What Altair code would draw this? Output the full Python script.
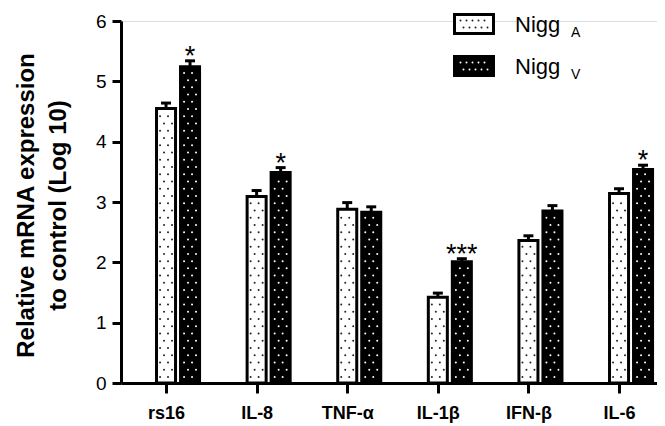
import json
import altair as alt
import pandas as pd

# ---- data ----
genes = ["rs16", "IL-8", "TNF-α", "IL-1β", "IFN-β", "IL-6"]
nigg_a = [4.55, 3.09, 2.88, 1.42, 2.36, 3.14]
nigg_a_err = [0.09, 0.10, 0.11, 0.07, 0.08, 0.08]
nigg_v = [5.24, 3.49, 2.83, 2.01, 2.85, 3.54]
nigg_v_err = [0.10, 0.08, 0.09, 0.05, 0.09, 0.07]
stars_v = ["*", "*", "", "***", "", "*"]
series = ["NiggA", "NiggV"]
legend_main = ["Nigg", "Nigg"]
legend_sub = ["A", "V"]
y_ticks = [0, 1, 2, 3, 4, 5, 6]

FONT = "Liberation Sans"
OFFSET = 0.265   # centre offset of the second bar (category units)
HW = 0.105       # bar half width (category units)
CAP = 0.055      # error cap half width

rows = []
for i, g in enumerate(genes):
    for s, vals, errs, off in ((series[0], nigg_a, nigg_a_err, 0.0),
                               (series[1], nigg_v, nigg_v_err, OFFSET)):
        xc = i + off
        rows.append(dict(gene=g, series=s, xc=xc, x0=xc - HW, x1=xc + HW,
                         c0=xc - CAP, c1=xc + CAP, value=vals[i],
                         top=vals[i] + errs[i],
                         star=stars_v[i] if s == series[1] else ""))
df = pd.DataFrame(rows)

# decorative dot pattern inside each bar
dots = []
for r in rows:
    k = 0
    y = 0.1
    while y < r["value"] - 0.05:
        offs = (-0.066, 0.022) if k % 2 == 0 else (-0.022, 0.066)
        for o in offs:
            dots.append(dict(series=r["series"], x=r["xc"] + o, y=y))
        k += 1
        y += 0.12
ddf = pd.DataFrame(dots)

xscale = alt.Scale(domain=[-0.497, 5.419], nice=False, zero=False)
yscale = alt.Scale(domain=[0, 6], nice=False)
fill_scale = alt.Scale(domain=series, range=["white", "black"])
dot_scale = alt.Scale(domain=series, range=["#222222", "white"])

label_expr = "{}[datum.value]".format(json.dumps(genes, ensure_ascii=False))

base = alt.Chart(df)

bars = base.mark_rect(stroke="black", strokeWidth=3).encode(
    x=alt.X("x0:Q", scale=xscale,
            axis=alt.Axis(values=list(range(len(genes))), labelExpr=label_expr,
                          title=None, grid=False, tickSize=10, tickWidth=3,
                          domainWidth=3, domainColor="black", tickColor="black",
                          labelFont=FONT, labelFontSize=18, labelFontWeight="bold",
                          labelColor="black", labelPadding=11)),
    x2="x1:Q",
    y=alt.Y("value:Q", scale=yscale,
            axis=alt.Axis(values=y_ticks, format="d", grid=False, tickSize=9,
                          tickWidth=3, domainWidth=3, domainColor="black",
                          tickColor="black", labelFont=FONT, labelFontSize=19,
                          labelColor="black", labelPadding=6,
                          title=["Relative mRNA expression", "to control (Log 10)"],
                          titleFont=FONT, titleFontSize=24, titleFontWeight="bold",
                          titleColor="black", titleLineHeight=32,
                          titleAngle=-90, titleX=-95, titleY=184,
                          titleAlign="center", titleBaseline="middle")),
    y2=alt.datum(0),
    fill=alt.Fill("series:N", scale=fill_scale, legend=None),
)

dot_layer = alt.Chart(ddf).mark_circle(size=4, opacity=1).encode(
    x=alt.X("x:Q", scale=xscale),
    y=alt.Y("y:Q", scale=yscale),
    color=alt.Color("series:N", scale=dot_scale, legend=None),
)

stems = base.mark_rule(color="black", strokeWidth=3).encode(
    x="xc:Q", y="value:Q", y2="top:Q")
caps = base.mark_rule(color="black", strokeWidth=3).encode(
    x="c0:Q", x2="c1:Q", y="top:Q")
stars = base.mark_text(font=FONT, fontSize=27, baseline="alphabetic",
                       dy=4, color="black").encode(
    x="xc:Q", y="top:Q", text="star:N")

# legend drawn as marks (pixel positions relative to the plot area)
leg = pd.DataFrame(dict(series=series, main=legend_main, sub=legend_sub,
                        row=[0, 1]))
leg["y0"] = leg["row"] * 42 - 6.5
leg["y1"] = leg["y0"] + 19
leg_sw = alt.Chart(leg).mark_rect(stroke="black", strokeWidth=3).encode(
    x=alt.value(333.5), x2=alt.value(372.5),
    y=alt.Y("y0:Q", scale=None), y2="y1:Q",
    fill=alt.Fill("series:N", scale=fill_scale, legend=None))
ldots = []
for j, s in enumerate(series):
    for rr in range(2):
        for cc in range(5):
            ldots.append(dict(series=s, x=341 + cc * 6 + (3 if rr else 0) - 1.5,
                              y=j * 42 - 0.5 + rr * 7))
ldf = pd.DataFrame(ldots)
leg_dots = alt.Chart(ldf).mark_circle(size=4, opacity=1).encode(
    x=alt.X("x:Q", scale=None), y=alt.Y("y:Q", scale=None),
    color=alt.Color("series:N", scale=dot_scale, legend=None))
leg["ty"] = leg["row"] * 42 + 11
leg["sy"] = leg["row"] * 42 + 16
leg_text = alt.Chart(leg).mark_text(font=FONT, fontSize=22, align="left",
                                    baseline="alphabetic", color="black").encode(
    x=alt.value(394), y=alt.Y("ty:Q", scale=None), text="main:N")
leg_sub = alt.Chart(leg).mark_text(font=FONT, fontSize=14, align="left",
                                   baseline="alphabetic", color="black").encode(
    x=alt.value(450), y=alt.Y("sy:Q", scale=None), text="sub:N")

chart = alt.layer(bars, dot_layer, stems, caps, stars,
                  leg_sw, leg_dots, leg_text, leg_sub).properties(
    width=536, height=362,
    autosize=alt.AutoSizeParams(type="none"),
    padding={"left": 113, "top": 13, "right": 0, "bottom": 42},
).configure_view(stroke=None).configure(background="white")

chart.save("out.html", embed_options={"renderer": "svg", "actions": False})
